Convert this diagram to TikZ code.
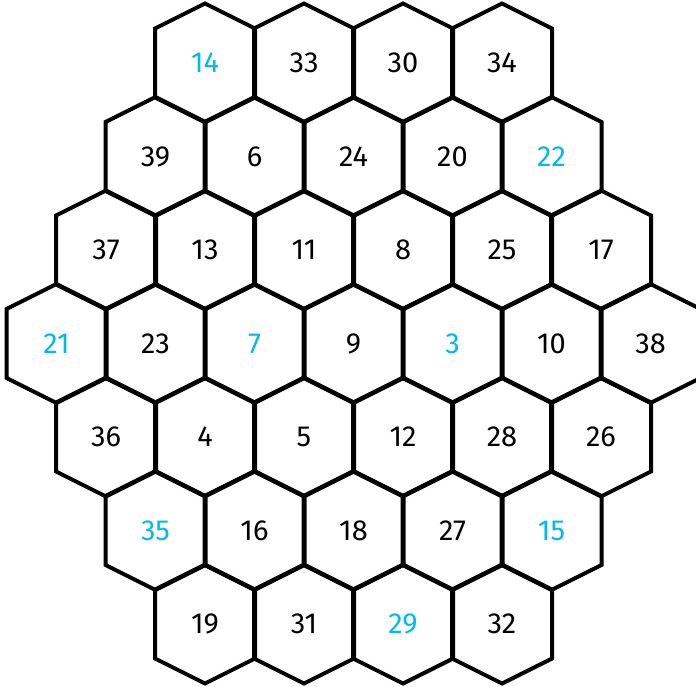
\documentclass[tikz,border=0pt]{standalone}
\usepackage{fontspec}
\setmainfont{Fira Sans}
\usepackage{tikz}
\usetikzlibrary{calc}
\usepackage{xcolor}
\definecolor{numcyan}{RGB}{0,187,236}
\tikzset{
  hexline/.style={draw=black, line width=4pt, line join=miter},
  cell/.style={inner sep=0pt, font=\fontsize{29}{29}\selectfont, text=black},
  hot/.style={cell, text=numcyan}
}
% one row of cells: row index, x of first centre, list of label/style
\newcommand{\hexrow}[3]{%
  \foreach \lab/\sty [count=\i from 0] in {#3} {
    \coordinate (c\lab) at ({#2+\i*99},{63+#1*93.5});
    \draw[hexline] ($(c\lab)+(0,-59.5)$) -- ++(50,25) -- ++(0,69)
      -- ++(-50,25) -- ++(-50,-25) -- ++(0,-69) -- cycle;
    \node[\sty] (n\lab) at (c\lab) {\lab};
  }}

\begin{document}
\begin{tikzpicture}[x=1pt, y=-1pt]
  \useasboundingbox (0,0) rectangle (696,686);
  \begin{scope}
    \clip (0,0) rectangle (696,686);
    \hexrow{0}{205}{14/hot,33/cell,30/cell,34/cell}
    \hexrow{1}{155.5}{39/cell,6/cell,24/cell,20/cell,22/hot}
    \hexrow{2}{106}{37/cell,13/cell,11/cell,8/cell,25/cell,17/cell}
    \hexrow{3}{56.5}{21/hot,23/cell,7/hot,9/cell,3/hot,10/cell,38/cell}
    \hexrow{4}{106}{36/cell,4/cell,5/cell,12/cell,28/cell,26/cell}
    \hexrow{5}{155.5}{35/hot,16/cell,18/cell,27/cell,15/hot}
    \hexrow{6}{205}{19/cell,31/cell,29/hot,32/cell}
  \end{scope}
\end{tikzpicture}
\end{document}
